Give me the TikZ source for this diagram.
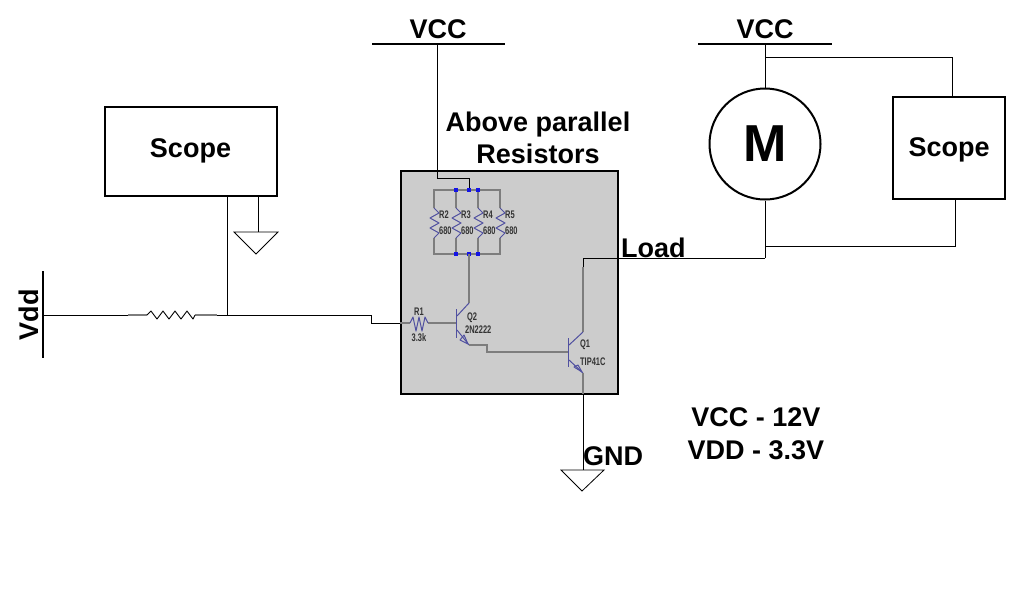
\documentclass[tikz,border=0pt]{standalone}
\usepackage{fontspec}
\setmainfont{Liberation Sans}
\usetikzlibrary{calc}
\definecolor{panel}{RGB}{204,204,204}
\definecolor{ltblue}{RGB}{80,80,160}
\definecolor{ltwire}{RGB}{125,125,125}
\definecolor{ltdot}{RGB}{20,20,230}
\tikzset{
  x=1pt,y=-1pt,
  wire/.style={draw=black,line width=.85pt},
  gwire/.style={draw=ltwire,line width=1.3pt},
  sym/.style={draw=ltblue,line width=1pt,line join=round},
  bbox/.style={draw=black,line width=2pt,inner sep=0pt,minimum width=#1},
  lbl/.style={font=\fontsize{27}{32.5}\selectfont\bfseries,inner sep=0pt,align=center},
  tiny/.style={font=\fontsize{11}{12}\selectfont\bfseries,inner sep=0pt,text=black!80,xscale=.68},
  bar/.style={draw=black,line width=2pt},
  dot/.style={fill=ltdot,inner sep=0pt,minimum size=4pt,draw=none}
}
\newcommand{\VZig}[2]{% x, top y: vertical resistor
  \draw[sym] (#1,#2) -- ++(5,5) -- ++(-9,5) -- ++(9,5) -- ++(-9,5) -- ++(9,5) -- ++(-5,5);}
\begin{document}
\begin{tikzpicture}
\useasboundingbox (0,0) rectangle (1011,600);
\fill[white] (0,0) rectangle (1011,600);
% panel
\node[draw=black,line width=2pt,fill=panel,minimum width=217pt,minimum height=223pt,inner sep=0pt] (panel) at (509,282) {};
% scopes and motor
\node[bbox=172pt,minimum height=89pt] (scopeL) at (191,151.5) {};
\node[bbox=112pt,minimum height=102pt] (scopeR) at (949,148) {};
\node[circle,draw=black,line width=2pt,minimum size=111pt,inner sep=0pt,font=\fontsize{52}{56}\selectfont\bfseries] (motor) at (765,144) {M};
\node[lbl] (scopeLt) at (190.5,151) {Scope};
\node[lbl] (scopeRt) at (949,150) {Scope};
% coordinates
\coordinate (vccL) at (437,44);
\coordinate (vccR) at (765,44);
\coordinate (vddT) at (43,315);
\coordinate (rA) at (128,315);
\coordinate (rB) at (147,315);
\coordinate (rC) at (195,315);
\coordinate (rD) at (217,315);
\coordinate (tap) at (227,315);
\coordinate (in) at (371,315);
\coordinate (topDot) at (469,190);
\coordinate (botDot) at (469,254);
\coordinate (q1C) at (583,267);
\coordinate (load) at (765,258);
\coordinate (gA) at (256,232);
\coordinate (gB) at (583,470);
% rails
\draw[bar] (372,44) -- (505,44);
\draw[bar] (698,44) -- (832,44);
\draw[bar] (43,271) -- (43,358);
% black wires
\draw[wire] (vccL) -- (437,178) -- (469,178) -- (topDot);
\draw[wire] (vccR) -- (motor.north);
\draw[wire] (765,57) -- (952,57) -- (952,97);
\draw[wire] (motor.south) -- (load);
\draw[wire] (765,246) -- (955,246) -- (955,199);
\draw[wire] (load) -- (583,258) -- (q1C);
\draw[wire] (vddT) -- (rA);
\draw[wire] (rD) -- (in) -- (371,323) -- (400,323);
\draw[wire] (227,196) -- (tap);
\draw[wire] (258,196) -- (258,232);
\draw[wire] (583,394) -- (gB);
% grounds
\draw[line width=.8pt] (234,232) -- (278,232) -- (256,254) -- cycle;
\draw[line width=.8pt] (561,470) -- (604,470) -- (582,491) -- cycle;
% series resistor
\draw[gwire] (rA) -- (rB);
\draw[gwire] (rC) -- (rD);
\draw[line width=.9pt,line join=round] (rB) -- ++(4,-4) -- ++(6,8) -- ++(6,-8) -- ++(6,8) -- ++(6,-8) -- ++(6,8) -- ++(6,-8) -- ++(6,8) -- (rC);
% parallel resistors
\draw[gwire] (434,208) -- (434,190) -- (500,190) -- (500,208);
\draw[gwire] (456,190) -- (456,208);
\draw[gwire] (478,190) -- (478,208);
\draw[gwire] (434,238) -- (434,254) -- (500,254) -- (500,238);
\draw[gwire] (456,254) -- (456,238);
\draw[gwire] (478,254) -- (478,238);
\VZig{434}{208}\VZig{456}{208}\VZig{478}{208}\VZig{500}{208}
\foreach \p in {456,469,478}{
  \node[dot] at (\p,190) {};
  \node[dot] at (\p,254) {};
}
\foreach \xx/\nn in {439/R2,461/R3,483/R4,505/R5}{
  \node[tiny,anchor=west] at (\xx,215) {\nn};
  \node[tiny,anchor=west] at (\xx,231) {680};
}
% R1, transistors
\draw[gwire] (400,323) -- (410,323);
\draw[gwire] (428,323) -- (456,323);
\draw[sym] (410,323) -- ++(3,-6) -- ++(3,14) -- ++(3,-14) -- ++(3,14) -- ++(3,-14) -- ++(3,6);
\node[tiny] at (419,312) {R1};
\node[tiny] at (419,338) {3.3k};
% Q2
\draw[gwire] (botDot) -- (469,303);
\draw[sym] (456,309) -- (456,338);
\draw[sym] (457,316) -- (469,303);
\draw[sym] (457,330) -- (469,345);
\draw[sym] (468,344) -- (460,340) -- (464,335) -- cycle;
\draw[gwire] (469,345) -- (487,345) -- (487,352) -- (568,352);
\node[tiny,anchor=west] at (467,318) {Q2};
\node[tiny,anchor=west] at (465,330) {2N2222};
% Q1
\draw[gwire] (q1C) -- (583,332);
\draw[sym] (568,338) -- (568,367);
\draw[sym] (569,345) -- (583,332);
\draw[sym] (569,360) -- (583,373);
\draw[sym] (582,372) -- (574,367) -- (578,365) -- cycle;
\draw[gwire] (583,373) -- (583,394);
\node[tiny,anchor=west] at (580,345) {Q1};
\node[tiny,anchor=west] at (580,362) {TIP41C};
% labels
\node[lbl] at (438,29) {VCC};
\node[lbl] at (765,29) {VCC};
\node[lbl] at (538,138) {Above parallel\\Resistors};
\node[lbl,anchor=west] at (621,248) {Load};
\node[lbl,anchor=west] at (583,456) {GND};
\node[lbl] at (756,433.5) {VCC - 12V\\VDD - 3.3V};
\node[lbl,rotate=90] at (29,315) {Vdd};
\end{tikzpicture}
\end{document}
